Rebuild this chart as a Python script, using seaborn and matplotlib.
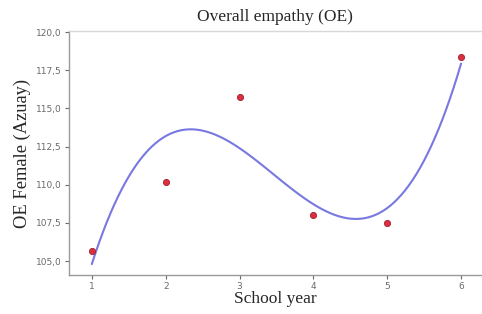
import matplotlib
matplotlib.use("Agg")
import matplotlib.pyplot as plt
import seaborn as sns
import pandas as pd
from matplotlib.ticker import FuncFormatter

school_year = [1, 2, 3, 4, 5, 6]
oe_female = [105.66, 110.2, 115.73, 108.03, 107.5, 118.4]
y_ticks = [105.0, 107.5, 110.0, 112.5, 115.0, 117.5, 120.0]

df = pd.DataFrame({"School year": school_year, "OE": oe_female})

sns.set_style("white")
fig = plt.figure(figsize=(4.82, 3.14), dpi=100)
ax = fig.add_axes([0.143, 0.124, 0.855, 0.777])

sns.regplot(data=df, x="School year", y="OE", order=3, ci=None, scatter=False,
            truncate=True, line_kws=dict(color="#7878e0", lw=1.5), ax=ax)
sns.scatterplot(data=df, x="School year", y="OE", color="#dc3040", s=20,
                edgecolor="#a02030", linewidth=0.6, ax=ax, zorder=5)

ax.set_xlim(0.69, 6.27)
ax.set_ylim(104.08, 120.07)
ax.set_xticks(school_year)
ax.set_yticks(y_ticks)
ax.yaxis.set_major_formatter(FuncFormatter(lambda v, p: f"{v:.1f}".replace(".", ",")))
ax.tick_params(axis="both", labelsize=6.5, colors="#6a6a6a", length=3, width=0.8,
               direction="out", left=True, bottom=True, pad=2)
for side in ["left", "bottom", "top"]:
    ax.spines[side].set_color("#999999")
    ax.spines[side].set_linewidth(1.0)
ax.spines["top"].set_color("#d8d8d8")
ax.spines["right"].set_visible(False)

serif = ["Liberation Serif", "DejaVu Serif"]
ax.set_title("Overall empathy (OE)", family=serif, fontsize=12.5, pad=7)
ax.set_xlabel("School year", family=serif, fontsize=12.5, labelpad=0)
ax.set_ylabel("OE Female (Azuay)", family=serif, fontsize=13.3, labelpad=4)

fig.savefig("out.png", dpi=100)
